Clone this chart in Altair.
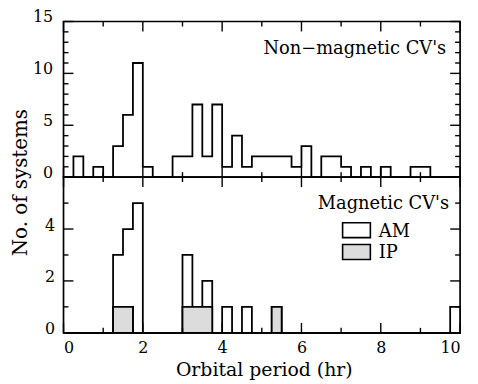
import altair as alt
import pandas as pd

# ---- data (bin width 0.25 hr, bins start at 0.0 ... 9.75) ----
bin_width = 0.25
nonmag_counts = [0, 2, 0, 1, 0, 3, 6, 11, 1, 0,
                 0, 2, 2, 7, 2, 7, 1, 4, 1, 2,
                 2, 2, 2, 1, 3, 0, 2, 2, 1, 0,
                 1, 0, 1, 0, 0, 1, 1, 0, 0, 0]
am_counts = [0, 0, 0, 0, 0, 2, 3, 5, 0, 0,
             0, 0, 2, 0, 1, 0, 1, 0, 1, 0,
             0, 0, 0, 0, 0, 0, 0, 0, 0, 0,
             0, 0, 0, 0, 0, 0, 0, 0, 0, 1]
ip_counts = [0, 0, 0, 0, 0, 1, 1, 0, 0, 0,
             0, 0, 1, 1, 1, 0, 0, 0, 0, 0,
             0, 1, 0, 0, 0, 0, 0, 0, 0, 0,
             0, 0, 0, 0, 0, 0, 0, 0, 0, 0]
series_names = ["AM", "IP"]
series_colors = ["white", "#dcdcdc"]
x_labels = [0, 2, 4, 6, 8, 10]
top_y_labels = [0, 5, 10, 15]
bot_y_labels = [0, 2, 4]

W, H = 400, 157
FONT = "DejaVu Serif"
LW = 1.8

edges = [round(i * bin_width, 2) for i in range(len(nonmag_counts) + 1)]
top_df = pd.DataFrame({"x": edges, "n": nonmag_counts + [nonmag_counts[-1]]})
rows = []
for s, counts, o in [("AM", am_counts, 1), ("IP", ip_counts, 0)]:
    ext = counts + [counts[-1]]
    for e, c in zip(edges, ext):
        rows.append({"x": e, "n": c, "series": s, "ord": o})
bot_df = pd.DataFrame(rows)

xscale = alt.Scale(domain=[0, 10], nice=False, zero=False)
yscale_top = alt.Scale(domain=[0, 15], nice=False)
yscale_bot = alt.Scale(domain=[0, 6], nice=False)

lab = dict(labelFont=FONT, labelFontSize=16, labelColor="black", ticks=False,
           domain=False, grid=False)

x_axis_bot = alt.Axis(values=x_labels, labelPadding=7, labelBaseline="top",
                      title="Orbital period (hr)", titleFont=FONT, titleFontSize=19,
                      titleFontWeight="normal", titleColor="black",
                      titleX=W / 2 + 2, titleY=28, titleBaseline="top", titleAlign="center",
                      **lab)
y_axis_top = alt.Axis(values=top_y_labels, labelPadding=11, labelBaseline="middle",
                      labelOffset=-5, title="No. of systems", titleFont=FONT,
                      titleFontSize=20, titleFontWeight="normal", titleColor="black",
                      titleAngle=270, titleX=-43, titleY=162, titleAlign="center",
                      titleBaseline="middle", **lab)
y_axis_bot = alt.Axis(values=bot_y_labels, labelPadding=9, labelBaseline="middle",
                      labelOffset=-4, title=None, **lab)


def tick_layers(xvals_major, xvals_minor, yvals_major, yvals_minor, xaxis, yaxis, yscale, ytitle):
    layers = []
    for vals, L in [(xvals_major, 10), (xvals_minor, 5)]:
        d = pd.DataFrame({"x": vals})
        for y0, y1 in [(0, L), (H, H - L)]:
            layers.append(alt.Chart(d).mark_rule(color="black", strokeWidth=1.4).encode(
                x=alt.X("x:Q", scale=xscale, axis=xaxis, title=None),
                y=alt.value(y0), y2=alt.value(y1)))
    for vals, L in [(yvals_major, 10), (yvals_minor, 5)]:
        d = pd.DataFrame({"n": vals})
        for x0, x1 in [(0, L), (W, W - L)]:
            layers.append(alt.Chart(d).mark_rule(color="black", strokeWidth=1.4).encode(
                y=alt.Y("n:Q", scale=yscale, axis=yaxis, title=ytitle),
                x=alt.value(x0), x2=alt.value(x1)))
    return layers


# ---- top panel ----
top_line = alt.Chart(top_df).mark_line(interpolate="step-after", color="black",
                                       strokeWidth=LW).encode(
    x=alt.X("x:Q", scale=xscale, axis=None, title=None),
    y=alt.Y("n:Q", scale=yscale_top, axis=y_axis_top, title="No. of systems"))
top_text = alt.Chart(pd.DataFrame({"t": ["Non\u2212magnetic CV's"]})).mark_text(
    font=FONT, fontSize=18, align="right", baseline="alphabetic", color="black").encode(
    x=alt.value(386), y=alt.value(33), text="t:N")
top = alt.layer(
    top_line, top_text,
    *tick_layers([0, 2, 4, 6, 8, 10], [1, 3, 5, 7, 9], [0, 5, 10, 15],
                 [v for v in range(16) if v % 5], None, y_axis_top, yscale_top, "No. of systems")
).properties(width=W, height=H)

# ---- bottom panel ----
bot_area = alt.Chart(bot_df).mark_area(interpolate="step-after", stroke="black",
                                       strokeWidth=LW).encode(
    x=alt.X("x:Q", scale=xscale, axis=x_axis_bot, title="Orbital period (hr)"),
    y=alt.Y("n:Q", scale=yscale_bot, axis=y_axis_bot, stack="zero", title=None),
    fill=alt.Fill("series:N", scale=alt.Scale(domain=series_names, range=series_colors),
                  legend=None),
    order=alt.Order("ord:Q"))
bot_text = alt.Chart(pd.DataFrame({"t": ["Magnetic CV's"]})).mark_text(
    font=FONT, fontSize=18, align="right", baseline="alphabetic", color="black").encode(
    x=alt.value(389), y=alt.value(32), text="t:N")

# hand-built legend (box + label per series)
legend_layers = []
box_tops = [46, 68]
for i, (name, col) in enumerate(zip(series_names, series_colors)):
    d = pd.DataFrame({"s": [name]})
    legend_layers.append(alt.Chart(d).mark_rect(fill=col, stroke="black", strokeWidth=1.6).encode(
        x=alt.value(281.5), x2=alt.value(309.5),
        y=alt.value(box_tops[i]), y2=alt.value(box_tops[i] + 15)))
    legend_layers.append(alt.Chart(d).mark_text(
        font=FONT, fontSize=18, align="left", baseline="alphabetic", color="black").encode(
        x=alt.value(318), y=alt.value(box_tops[i] + 14), text="s:N"))

bot = alt.layer(
    bot_area, bot_text, *legend_layers,
    *tick_layers([0, 2, 4, 6, 8, 10], [1, 3, 5, 7, 9], [0, 2, 4, 6], [1, 3, 5],
                 x_axis_bot, y_axis_bot, yscale_bot, None)
).properties(width=W, height=H)

chart = alt.vconcat(top, bot, spacing=0, bounds="flush").properties(
    padding={"left": 2, "top": -2, "right": 5, "bottom": 0}
).configure_view(stroke="black", strokeWidth=1.7)

chart.save("out.html", embed_options={"renderer": "svg", "actions": False})
